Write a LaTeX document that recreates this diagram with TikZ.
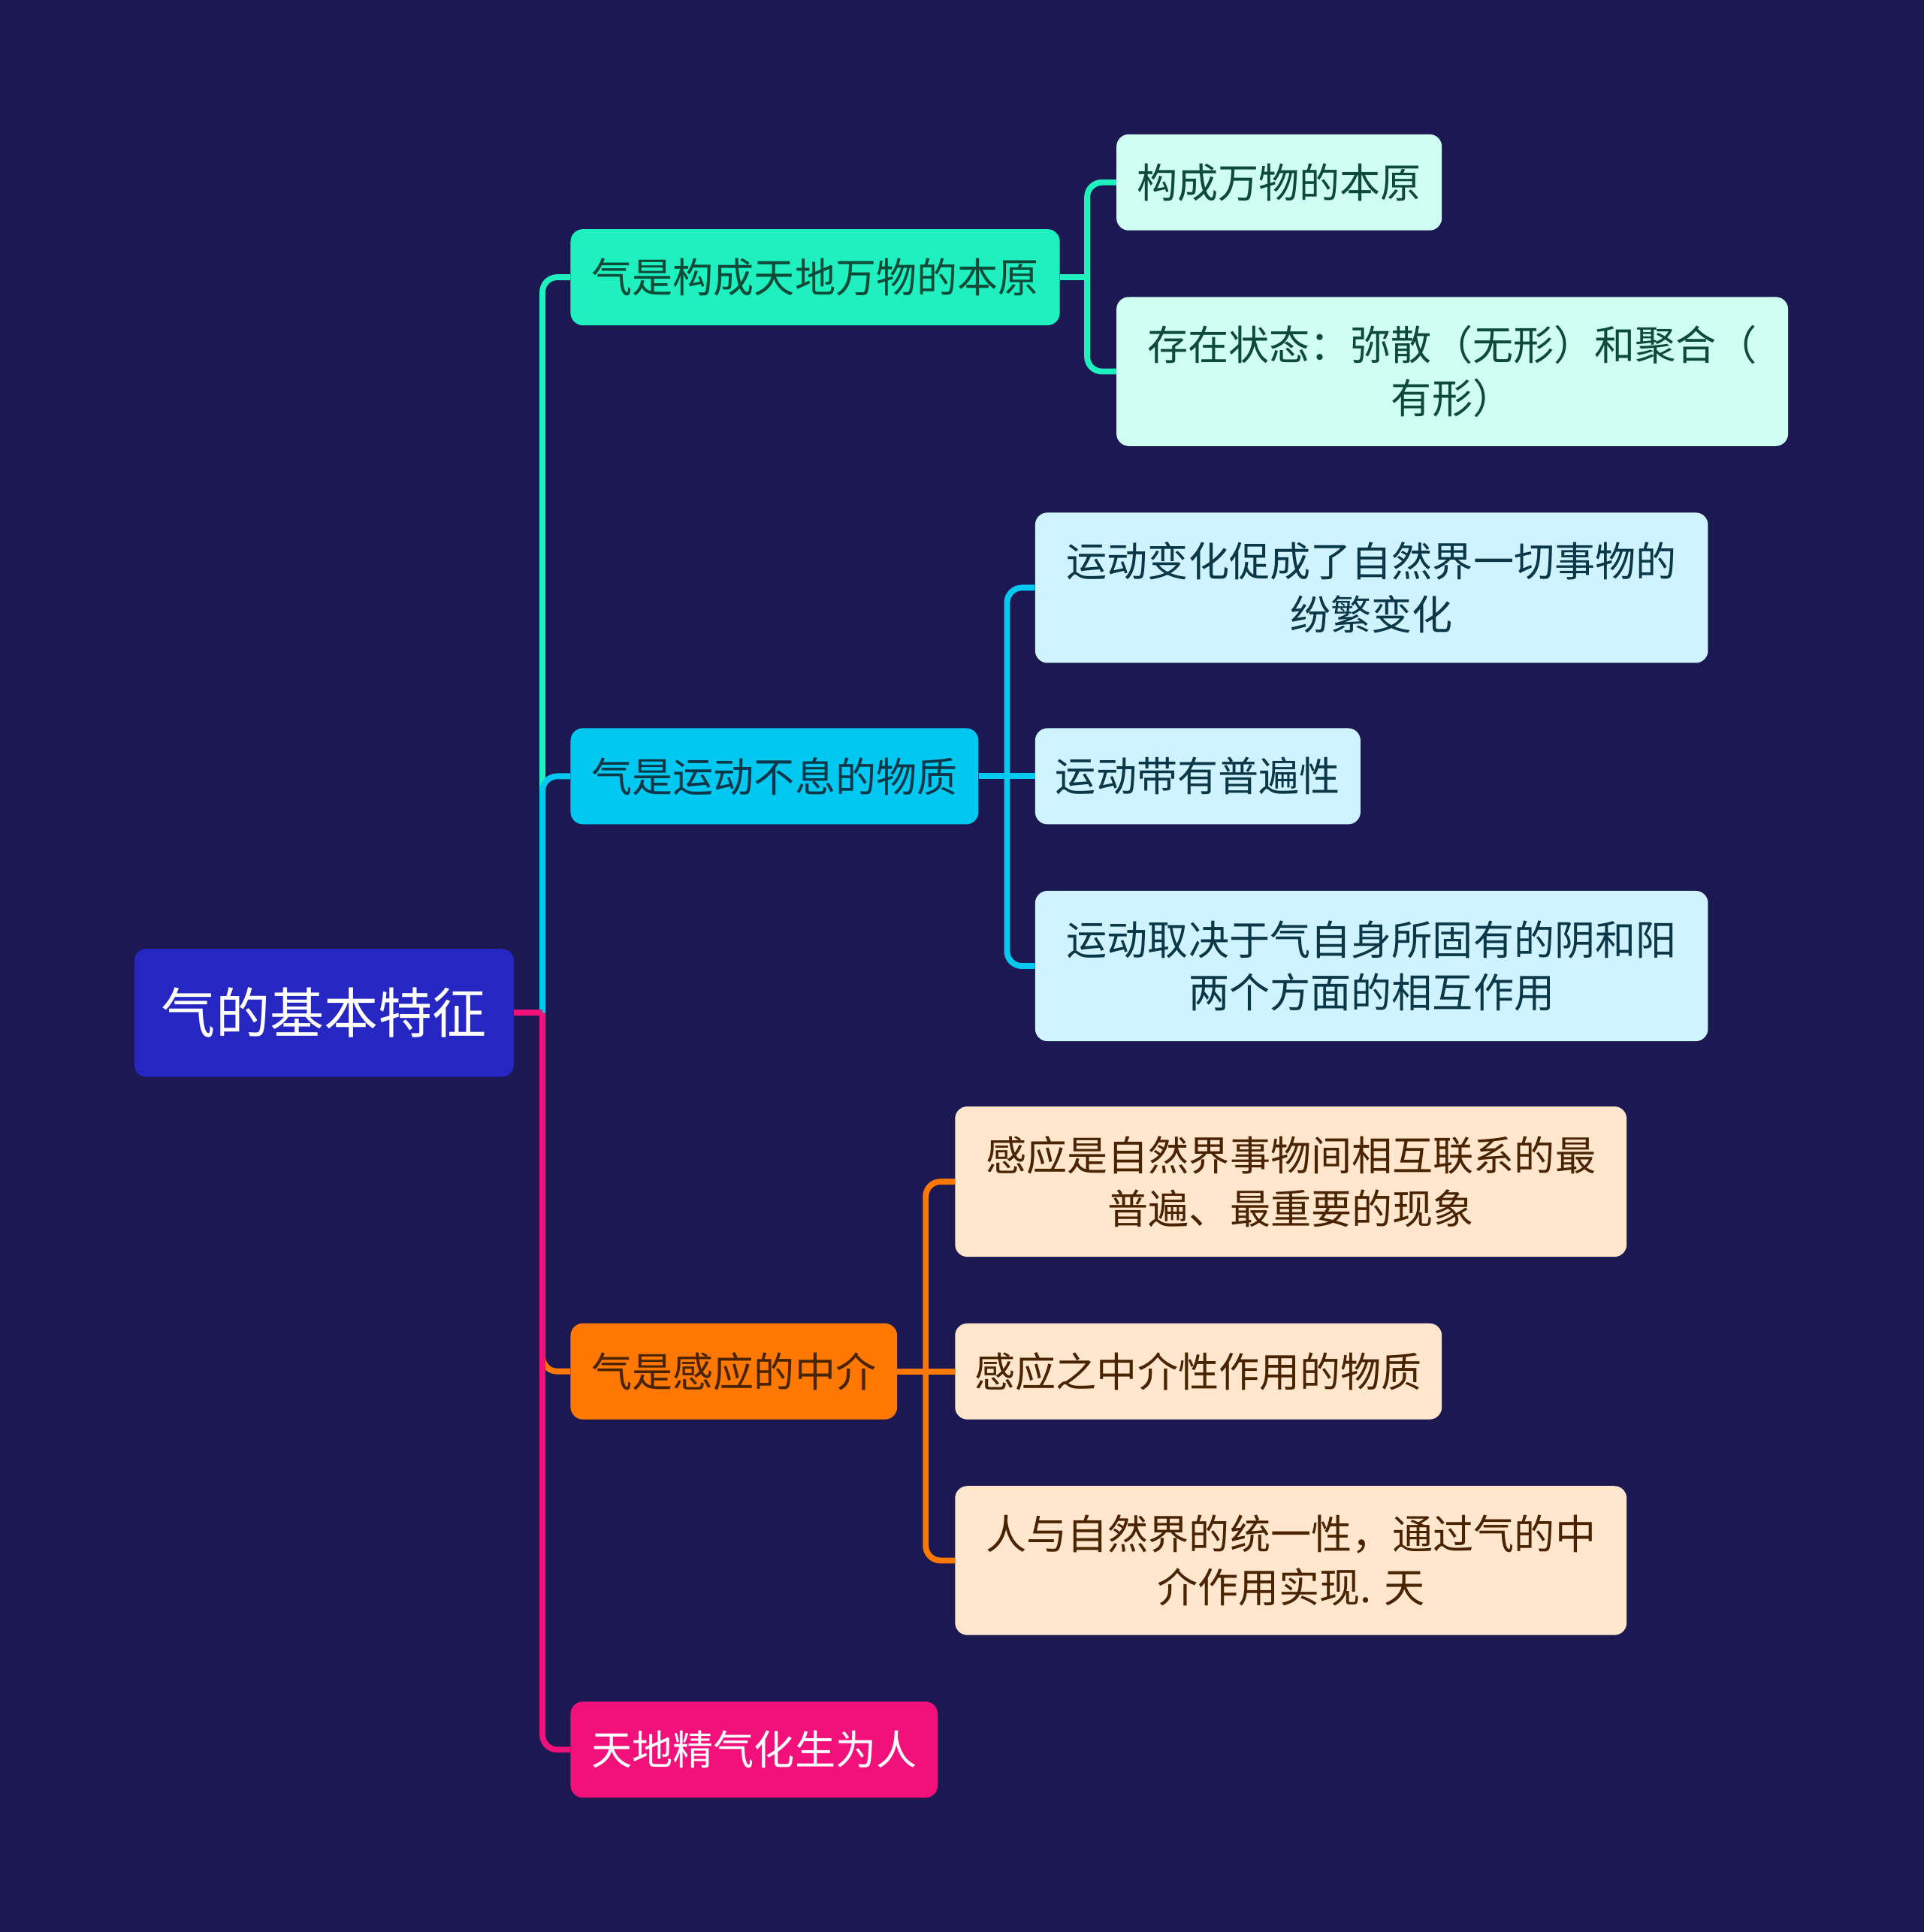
\documentclass[tikz,border=0pt]{standalone}
\usepackage{fontspec}
\newfontfamily\cjk{Noto Sans CJK SC}
\usetikzlibrary{calc}
\usepackage{xcolor}
\definecolor{mapBg}{HTML}{1B1852}
\definecolor{mapRoot}{HTML}{2626C2}
\definecolor{mapTeal}{HTML}{1EF0C0}
\definecolor{mapCyan}{HTML}{00C8F0}
\definecolor{mapOrange}{HTML}{FF7800}
\definecolor{mapPink}{HTML}{F2107A}
\definecolor{tealLight}{HTML}{CFFFF0}
\definecolor{cyanLight}{HTML}{CFF4FF}
\definecolor{orangeLight}{HTML}{FFE6CC}
\definecolor{tealInk}{HTML}{0D4A38}
\definecolor{cyanInk}{HTML}{0B3848}
\definecolor{orangeInk}{HTML}{4A2400}

\begin{document}
\begin{tikzpicture}[
    x=1pt, y=-1pt,
    % every box is a flat rounded card; size is fixed so the layout matches the page
    box/.style={rounded corners=10pt, align=center, inner sep=0pt,
                font=\cjk\fontsize{33}{43}\selectfont},
    rootbox/.style={box, fill=mapRoot, text=white, minimum width=308pt, minimum height=104pt,
                    font=\cjk\fontsize{44}{52}\selectfont},
    topic/.style={box, fill=#1, minimum height=78pt},
    leaf/.style={box, fill=#1, minimum height=78pt},
    % connectors: thick, coloured after the branch they belong to
    link/.style={line width=4.8pt, draw=#1, rounded corners=12pt},
]

% background, which also fixes the page size
\fill[mapBg] (0,0) rectangle (1561,1568);

%================= root =================%
\node[rootbox] (root) at (263,822) {气的基本特征};

%================= first level =================%
\node[topic=mapTeal,   text=tealInk,   minimum width=397pt] (origin) at (661.5,225)  {气是构成天地万物的本原};
\node[topic=mapCyan,   text=cyanInk,   minimum width=331pt] (motion) at (628.5,630)  {气是运动不息的物质};
\node[topic=mapOrange, text=orangeInk, minimum width=265pt] (medium) at (595.5,1113) {气是感应的中介};
\node[topic=mapPink,   text=white,     minimum width=298pt] (human)  at (612,1420)   {天地精气化生为人};

%================= second level =================%
\node[leaf=tealLight, text=tealInk, minimum width=264pt] (originA) at (1038,148) {构成万物的本原};
\node[leaf=tealLight, text=tealInk, minimum width=545pt, minimum height=121pt] (originB) at (1178.5,301.5)
     {存在状态：弥散（无形）和聚合（\\有形）};

\node[leaf=cyanLight, text=cyanInk, minimum width=546pt, minimum height=122pt] (motionA) at (1113,477)
     {运动变化促成了自然界一切事物的\\纷繁变化};
\node[leaf=cyanLight, text=cyanInk, minimum width=264pt] (motionB) at (972,630) {运动带有普遍性};
\node[leaf=cyanLight, text=cyanInk, minimum width=546pt, minimum height=122pt] (motionC) at (1113,784)
     {运动取决于气自身所固有的阴和阳\\两个方面的相互作用};

\node[leaf=orangeLight, text=orangeInk, minimum width=545pt, minimum height=122pt] (mediumA) at (1047.5,959)
     {感应是自然界事物间相互联系的最\\普遍、最重要的现象};
\node[leaf=orangeLight, text=orangeInk, minimum width=395pt] (mediumB) at (972.5,1113) {感应之中介性作用的物质};
\node[leaf=orangeLight, text=orangeInk, minimum width=545pt, minimum height=121pt] (mediumC) at (1047.5,1266.5)
     {人与自然界的统一性，通过气的中\\介作用实现. 天};

%================= connectors, root -> first level =================%
% cyan lies over teal above the hub, pink over orange below it
\coordinate (hub) at ($(root.east)+(23,0)$);
\draw[link=mapTeal]   (hub) |- (origin.west);
\draw[link=mapOrange] (hub) |- (medium.west);
\draw[link=mapCyan]   (hub) |- (motion.west);
\draw[link=mapPink]   (hub) |- (human.west);
\draw[link=mapPink, rounded corners=0pt] (root.east) -- (hub);

%================= connectors, first -> second level =================%
\coordinate (originHub) at ($(origin.east)+(22,0)$);
\draw[link=mapTeal, rounded corners=0pt] (origin.east) -- (originHub);
\draw[link=mapTeal] (originHub) |- (originA.west);
\draw[link=mapTeal] (originHub) |- (originB.west);

\coordinate (motionHub) at ($(motion.east)+(23,0)$);
\draw[link=mapCyan, rounded corners=0pt] (motion.east) -- (motionB.west);
\draw[link=mapCyan] (motionHub) |- (motionA.west);
\draw[link=mapCyan] (motionHub) |- (motionC.west);

\coordinate (mediumHub) at ($(medium.east)+(23,0)$);
\draw[link=mapOrange, rounded corners=0pt] (medium.east) -- (mediumB.west);
\draw[link=mapOrange] (mediumHub) |- (mediumA.west);
\draw[link=mapOrange] (mediumHub) |- (mediumC.west);

\end{tikzpicture}
\end{document}
